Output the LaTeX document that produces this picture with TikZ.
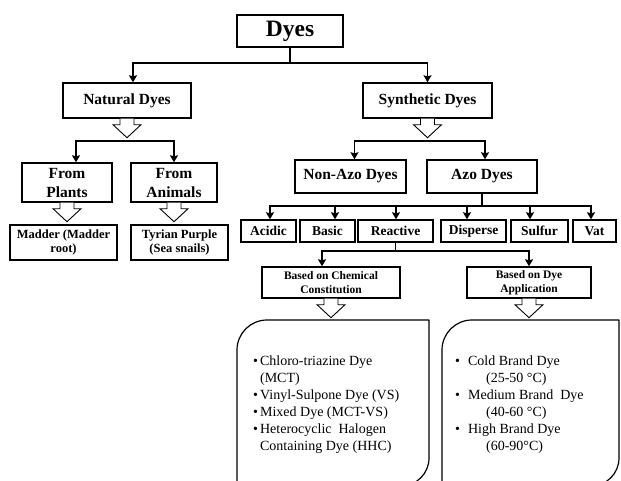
\documentclass[tikz,border=0pt]{standalone}
\usepackage{fontspec}
\setmainfont{Liberation Serif}
\usepackage{tikz}
\usetikzlibrary{arrows.meta,calc}
\tikzset{basic/.style={draw,fill=white,line width=1.4pt,
                       text badly centered,inner sep=1pt}}
\tikzset{topbox/.style={basic,minimum width=106pt,minimum height=32pt,
                        font=\bfseries\fontsize{23.5}{25}\selectfont}}
\tikzset{classbox/.style={basic,minimum height=35pt,
                          font=\bfseries\fontsize{15.5}{17}\selectfont}}
\tikzset{sourcebox/.style={basic,minimum height=39pt,align=center,
                           font=\bfseries\fontsize{15.5}{19}\selectfont}}
\tikzset{examplebox/.style={basic,minimum height=35pt,align=center,
                            font=\bfseries\fontsize{12.5}{13.5}\selectfont}}
\tikzset{typebox/.style={basic,minimum height=22pt,
                         font=\bfseries\fontsize{13.5}{15}\selectfont}}
\tikzset{basisbox/.style={basic,minimum height=31pt,align=center,
                          font=\bfseries\fontsize{11.5}{14}\selectfont}}
\tikzset{frame/.style={inner sep=0pt,outer sep=0pt}}
\tikzset{framepath/.style={draw,line width=1.2pt,line join=round}}
\tikzset{listtext/.style={inner sep=0pt,anchor=north west,align=left,
                          font=\fontsize{14}{17}\selectfont}}
\tikzset{bus/.style={line width=1.6pt}}
\tikzset{link/.style={bus,-{Stealth[width=8pt,length=7pt,inset=1pt]}}}
\tikzset{hollow/.style={draw,fill=white,line width=0.9pt,line join=miter}}
\newcommand{\hollowarrow}[1]{\draw[hollow] ([xshift=-7pt]#1) -- ++(0,-6pt)
                                -- ++(-7pt,0) -- ++(14pt,-13pt) -- ++(14pt,13pt)
                                -- ++(-7pt,0) -- ++(0,6pt);}
\newcommand{\cutframe}[1]{\draw[framepath] ([xshift=30pt]#1.north west)
        -- (#1.north east) -- ([yshift=28pt]#1.south east)
        arc[start angle=0,end angle=-90,radius=28pt] -- (#1.south west)
        -- ([yshift=-30pt]#1.north west)
        arc[start angle=180,end angle=90,radius=30pt] -- cycle;}

\begin{document}
\begin{tikzpicture}[x=1pt,y=-1pt]
    \useasboundingbox (0,0) rectangle (621,480);
    \clip (0,0) rectangle (621,480);
    % Levels of the connecting lines
    \coordinate (b1) at (0,63);
    \coordinate (b2) at (0,141);
    \coordinate (b3) at (0,206);
    \coordinate (b4) at (0,251);
    % Root and the two classes
    \node[topbox] (dyes) at (290,31) {Dyes};
    \node[classbox, minimum width=128pt] (natural) at (127,100.5) {Natural Dyes};
    \node[classbox, minimum width=129pt] (synthetic) at (427.5,100.5) {Synthetic Dyes};
    \draw[bus] (dyes.south) -- (dyes.south |- b1);
    \draw[link] (dyes.south |- b1) -| ([xshift=6pt]natural.north);
    \draw[link] (dyes.south |- b1) -| (synthetic.north);
    % Natural dyes
    \node[sourcebox, minimum width=90pt] (plants) at (67,182.5) {From\\Plants};
    \node[sourcebox, minimum width=86pt] (animals) at (174,182.5) {From\\Animals};
    \hollowarrow{natural.south}
    \draw[link] (natural.south |- b2) -| ([xshift=9pt]plants.north);
    \draw[link] (natural.south |- b2) -| (animals.north);
    \node[examplebox, minimum width=107pt] (madder) at (63.5,242.5) {Madder (Madder\\root)};
    \node[examplebox, minimum width=97pt] (tyrian) at (179.5,242.5) {Tyrian Purple\\(Sea snails)};
    \hollowarrow{plants.south}
    \hollowarrow{animals.south}
    % Synthetic dyes
    \node[classbox, minimum width=111pt, minimum height=33pt] (nonazo) at (350.5,176.5) {Non-Azo Dyes};
    \node[classbox, minimum width=110pt, minimum height=33pt] (azo) at (482,176.5) {Azo Dyes};
    \hollowarrow{synthetic.south}
    \draw[link] (synthetic.south |- b2) -| ([xshift=4pt]nonazo.north);
    \draw[link] (synthetic.south |- b2) -| ([xshift=3pt]azo.north);
    % Kinds of azo dyes
    \draw[bus] (azo.south) -- (azo.south |- b3);
    \foreach \n/\t/\cx/\w/\s in {acidic/Acidic/268.5/55/1.5,basic/Basic/327.5/55/7.5,
                                 reactive/Reactive/395.5/75/0.5,disperse/Disperse/473.5/65/-6.5,
                                 sulfur/Sulfur/539.5/57/-9.5,vat/Vat/594.5/43/-3.5}{%
          \node[typebox, minimum width=\w pt] (\n) at (\cx,231) {\t};
          \draw[link] (azo.south |- b3) -| ([xshift=\s pt]\n.north);
        }
    % Reactive dyes
    \node[basisbox, minimum width=138pt] (chem) at (331,282.5) {Based on Chemical\\Constitution};
    \node[basisbox, minimum width=124pt] (app) at (529,282.5) {Based on Dye\\Application};
    \draw[bus] (reactive.south) -- (reactive.south |- b4);
    \draw[link] (reactive.south |- b4) -| ([xshift=-9pt]chem.north);
    \draw[link] (reactive.south |- b4) -| (app.north);
    \hollowarrow{chem.south}
    \hollowarrow{app.south}
    % Frames with the lists
    \node[frame, minimum width=192pt, minimum height=166pt] (chemframe) at (333,403) {};
    \node[frame, minimum width=177pt, minimum height=166pt] (appframe) at (530.5,403) {};
    \cutframe{chemframe}
    \cutframe{appframe}
    \node[listtext] (chemlist) at (253,353) {%
        \begin{tabular}{@{}l@{\hspace{2pt}}l@{}}
        \textbullet & Chloro-triazine Dye\\
                    & (MCT)\\
        \textbullet & Vinyl-Sulpone Dye (VS)\\
        \textbullet & Mixed Dye (MCT-VS)\\
        \textbullet & Heterocyclic\ \ Halogen\\
                    & Containing Dye (HHC)
        \end{tabular}};
    \node[listtext] (applist) at (455,353) {%
        \begin{tabular}{@{}l@{\hspace{8pt}}l@{}}
        \textbullet & Cold Brand Dye\\
                    & \hspace{18pt}(25-50 °C)\\
        \textbullet & Medium Brand\ \ Dye\\
                    & \hspace{18pt}(40-60 °C)\\
        \textbullet & High Brand Dye\\
                    & \hspace{18pt}(60-90°C)
        \end{tabular}};
\end{tikzpicture}
\end{document}
